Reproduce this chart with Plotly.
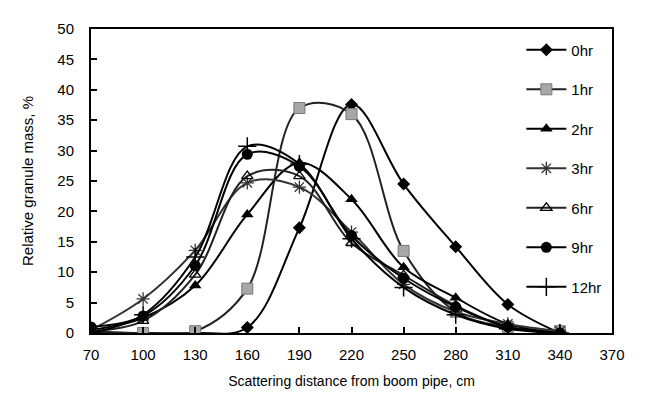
import plotly.graph_objects as go

distance = [70, 100, 130, 160, 190, 220, 250, 280, 310, 340]
hr0 = [0, 0, 0, 0.9, 17.3, 37.6, 24.5, 14.2, 4.7, 0]
hr1 = [0.3, 0, 0.3, 7.3, 37.0, 36.0, 13.5, 3.5, 1.0, 0.3]
hr2 = [0.5, 2.5, 7.8, 19.5, 28.0, 22.0, 10.8, 5.8, 1.5, 0]
hr3 = [0.5, 5.6, 13.6, 24.7, 24.0, 16.6, 8.0, 3.5, 1.5, 0.3]
hr6 = [0.3, 2.0, 9.6, 25.8, 25.8, 14.8, 9.5, 4.5, 1.0, 0]
hr9 = [1.0, 2.8, 11.1, 29.4, 27.4, 16.0, 9.0, 4.3, 1.0, 0]
hr12 = [0, 3.0, 12.5, 30.7, 27.8, 15.5, 7.5, 3.0, 0.7, 0]

series = [
    ("0hr", hr0, dict(symbol="diamond", size=10, color="black"), "black"),
    ("1hr", hr1, dict(symbol="square", size=11, color="#a8a8a8", line=dict(color="#777", width=1)), "#222"),
    ("2hr", hr2, dict(symbol="triangle-up", size=11, color="black"), "black"),
    ("3hr", hr3, dict(symbol="asterisk-open", size=11, color="#333", line=dict(color="#333", width=1.3)), "#333"),
    ("6hr", hr6, dict(symbol="triangle-up-open", size=10, color="black", line=dict(color="black", width=1.3)), "#222"),
    ("9hr", hr9, dict(symbol="circle", size=11, color="black"), "black"),
    ("12hr", hr12, dict(symbol="cross-thin-open", size=13, color="black", line=dict(color="black", width=1.5)), "black"),
]

fig = go.Figure()
for name, vals, marker, lc in series:
    fig.add_trace(go.Scatter(
        x=distance, y=vals, name=name, legendgroup=name,
        mode="lines+markers",
        line=dict(color=lc, width=2, shape="spline", smoothing=1),
        marker=marker,
    ))

FAM = "Liberation Sans, Arial, sans-serif"
tickf = dict(family=FAM, size=15, color="black")
fig.update_layout(
    width=629, height=393,
    margin=dict(l=83, r=22, t=14, b=68),
    paper_bgcolor="white", plot_bgcolor="white",
    font=dict(family=FAM, size=15, color="black"),
    showlegend=True,
    legend=dict(x=0.826, y=0.985, xanchor="left", yanchor="top",
                font=dict(family=FAM, size=15, color="black"),
                bgcolor="rgba(0,0,0,0)", tracegroupgap=17, itemwidth=40),
    xaxis=dict(range=[70, 370], tickvals=list(range(70, 371, 30)),
               showline=True, linecolor="black", linewidth=2, mirror=True,
               ticks="inside", ticklen=6, tickwidth=2, tickcolor="black",
               ticklabelstandoff=7,
               showgrid=False, zeroline=False, tickfont=tickf,
               title=dict(text="Scattering distance from boom pipe, cm", standoff=14,
                          font=dict(family=FAM, size=14, color="black"))),
    yaxis=dict(range=[0, 50], tickvals=list(range(0, 51, 5)),
               showline=True, linecolor="black", linewidth=2, mirror=True,
               ticks="inside", ticklen=6, tickwidth=2, tickcolor="black",
               ticklabelstandoff=12,
               showgrid=False, zeroline=False, tickfont=tickf,
               title=dict(text="Relative granule mass, %", standoff=20,
                          font=dict(family=FAM, size=15, color="black"))),
)
fig.write_html("out.html")
